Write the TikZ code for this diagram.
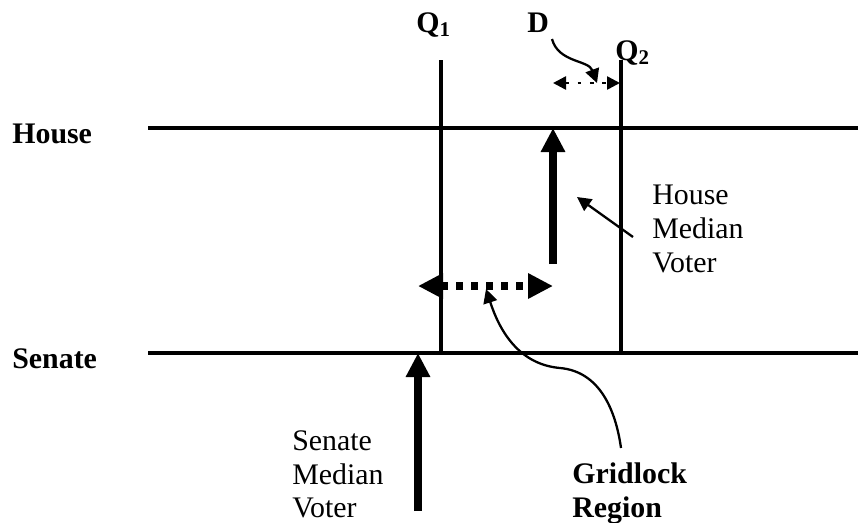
\documentclass[tikz,border=0pt]{standalone}
\usepackage{fontspec}
\setmainfont{Liberation Serif}
\usetikzlibrary{arrows.meta, positioning}

\begin{document}
\begin{tikzpicture}[x=0.02cm, y=-0.02cm,
    every node/.style={font=\fontsize{17}{19.3}\selectfont, inner sep=0pt},
    lbl/.style={font=\fontsize{17}{19.3}\selectfont\bfseries, anchor=base west},
    note/.style={align=left, anchor=north west},
    policy/.style={line width=1.8pt},
    voter/.style={line width=4.5pt, -{Triangle[length=0.48cm, width=0.46cm]}},
    gridlock/.style={line width=4.5pt, dash pattern=on 0.14cm off 0.16cm,
                     {Triangle[length=0.5cm, width=0.48cm]}-{Triangle[length=0.5cm, width=0.48cm]}},
    dist/.style={line width=1.4pt, dash pattern=on 2pt off 5pt,
                 {Triangle[length=0.26cm, width=0.26cm]}-{Triangle[length=0.26cm, width=0.26cm]}},
    pointer/.style={line width=1.3pt, -{Triangle[length=0.28cm, width=0.28cm]}}]
  \useasboundingbox (0,0) rectangle (858,522);

  % chambers and status quo points
  \node[lbl] (house)  at (12,143) {House};
  \node[lbl] (senate) at (12,368) {Senate};
  \node[lbl] (qone)   at (416,32) {Q\textsubscript{1}};
  \node[lbl] (dlbl)   at (527,32) {D};
  \node[lbl] (qtwo)   at (615,60) {Q\textsubscript{2}};

  \coordinate (hl) at (148,128);  \coordinate (hr) at (858,128);
  \coordinate (sl) at (148,353);  \coordinate (sr) at (858,353);
  \coordinate (q1t) at (441,60);  \coordinate (q1b) at (441,353);
  \coordinate (q2t) at (621,60);  \coordinate (q2b) at (621,353);

  \draw[policy] (hl) -- (hr);
  \draw[policy] (sl) -- (sr);
  \draw[policy] (q1t) -- (q1b);
  \draw[policy] (q2t) -- (q2b);

  % median voters
  \coordinate (hbase) at (553,264);  \coordinate (htip) at (553,128);
  \coordinate (sbase) at (418,511);  \coordinate (stip) at (418,353);
  \draw[voter] (hbase) -- (htip);
  \draw[voter] (sbase) -- (stip);

  \coordinate (gl) at (418,286);  \coordinate (gr) at (553,286);
  \draw[gridlock] (gl) -- (gr);

  \coordinate (dl) at (553,83);  \coordinate (dr) at (620,83);
  \draw[dist] (dl) -- (dr);

  % labels
  \node[note] (hmv) at (652,185) {House\\Median\\Voter};
  \node[note] (smv) at (292,430) {Senate\\Median\\Voter};
  \node[note, font=\fontsize{17}{19.3}\selectfont\bfseries] (grid) at (572,462) {Gridlock\\Region};

  \coordinate (hmvtail) at (633,237);  \coordinate (hmvhead) at (577,197);
  \draw[pointer] (hmvtail) -- (hmvhead);

  \coordinate (gtail) at (621,448);  \coordinate (gbend) at (560,368);
  \coordinate (ghead) at (486,289);
  \draw[pointer] (gtail) to[out=98, in=-5] (gbend) to[out=175, in=-72] (ghead);

  \coordinate (dtail) at (552,39);  \coordinate (dhead) at (597,83);
  \draw[pointer] (dtail) to[out=-75, in=110] (dhead);
\end{tikzpicture}
\end{document}
